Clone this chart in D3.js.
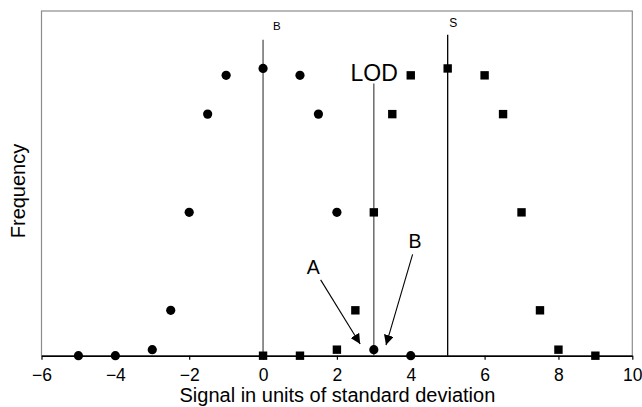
<!DOCTYPE html>
<html>
<head>
<meta charset="utf-8">
<script src="https://cdn.jsdelivr.net/npm/d3@7"></script>
<style>
  html, body { margin: 0; padding: 0; background: #fff; }
  svg { display: block; font-family: "Liberation Sans", Arial, Helvetica, sans-serif; }
</style>
</head>
<body>
<svg id="chart" width="642" height="407"></svg>
<script>
// ---- data ----
const xTicks = [-6, -4, -2, 0, 2, 4, 6, 8, 10];
const blankX = [-5, -4, -3, -2.5, -2, -1.5, -1, 0, 1, 1.5, 2, 3, 4];
const blankY = [0, 0, 0.021, 0.158, 0.499, 0.841, 0.976, 1.0, 0.976, 0.841, 0.499, 0.021, 0];
const signalX = [0, 1, 2, 2.5, 3, 3.5, 4, 5, 6, 6.5, 7, 7.5, 8, 9];
const signalY = [0, 0, 0.021, 0.158, 0.499, 0.841, 0.976, 1.0, 0.976, 0.841, 0.499, 0.158, 0.021, 0];
const refLineX = [0, 3, 5];
const refLineTop = [1.1, 0.948, 1.117];
const refLineLabel = ["B", "LOD", "S"];
const arrowLabel = ["A", "B"];
const arrowFrom = [[1.56, 0.264], [4.05, 0.353]];
const arrowTo = [[2.63, 0.041], [3.33, 0.037]];
const xTitle = "Signal in units of standard deviation";
const yTitle = "Frequency";

// ---- layout ----
const W = 642, H = 407;
const m = { top: 11, right: 9.7, bottom: 51.3, left: 41.5 };
const svg = d3.select("#chart");
const x = d3.scaleLinear().domain([-6, 10]).range([m.left, W - m.right]);
const y = d3.scaleLinear().domain([0, 1.2]).range([H - m.bottom, m.top]);

svg.append("defs").append("marker")
  .attr("id", "ah").attr("viewBox", "0 0 10 10").attr("refX", 10).attr("refY", 5)
  .attr("markerWidth", 10).attr("markerHeight", 10).attr("markerUnits", "userSpaceOnUse")
  .attr("orient", "auto")
  .append("path").attr("d", "M0,0 L10,5 L0,10 Z").attr("fill", "#000");

// frame
svg.append("rect")
  .attr("x", x(-6)).attr("y", y(1.2))
  .attr("width", x(10) - x(-6)).attr("height", y(0) - y(1.2))
  .attr("fill", "none").attr("stroke", "#8c8c8c").attr("stroke-width", 1.2);

// reference vertical lines
const lineColors = ["#555", "#555", "#000"];
refLineX.forEach((v, i) => {
  svg.append("line")
    .attr("x1", x(v)).attr("x2", x(v))
    .attr("y1", y(0)).attr("y2", y(refLineTop[i]))
    .attr("stroke", lineColors[i]).attr("stroke-width", 1.3);
});
// labels of vertical lines
svg.append("text").attr("x", x(refLineX[0]) + 10).attr("y", y(refLineTop[0]) - 9.5)
  .attr("font-size", 11.5).text(refLineLabel[0]);
svg.append("text").attr("x", x(refLineX[1]) + 24).attr("y", y(refLineTop[1]) - 2.8)
  .attr("font-size", 23).attr("text-anchor", "end").text(refLineLabel[1]);
svg.append("text").attr("x", x(refLineX[2]) + 1.5).attr("y", y(refLineTop[2]) - 7.5)
  .attr("font-size", 12).text(refLineLabel[2]);

// x axis
const axis = d3.axisBottom(x).tickValues(xTicks).tickSize(4).tickSizeOuter(0).tickPadding(9)
  .tickFormat(d => d3.format("d")(d).replace("-", "\u2212"));
const gx = svg.append("g").attr("transform", `translate(0,${y(0)})`).call(axis);
gx.select(".domain").attr("stroke", "#000").attr("stroke-width", 1.4);
gx.selectAll(".tick line").attr("stroke", "#000").attr("stroke-width", 1.2);
gx.selectAll(".tick text").attr("font-size", 17.5).attr("fill", "#000")
  .attr("font-family", "Liberation Sans, Arial, sans-serif");

// markers
svg.append("g").selectAll("circle").data(blankX).join("circle")
  .attr("cx", d => x(d)).attr("cy", (d, i) => y(blankY[i])).attr("r", 4.6).attr("fill", "#000");
const s = 8.4;
svg.append("g").selectAll("rect").data(signalX).join("rect")
  .attr("x", d => x(d) - s / 2).attr("y", (d, i) => y(signalY[i]) - s / 2)
  .attr("width", s).attr("height", s).attr("fill", "#000");

// arrows with labels
arrowLabel.forEach((lab, i) => {
  svg.append("line")
    .attr("x1", x(arrowFrom[i][0])).attr("y1", y(arrowFrom[i][1]))
    .attr("x2", x(arrowTo[i][0])).attr("y2", y(arrowTo[i][1]))
    .attr("stroke", "#000").attr("stroke-width", 1.1).attr("marker-end", "url(#ah)");
});
svg.append("text").attr("x", x(arrowFrom[0][0]) - 14).attr("y", y(arrowFrom[0][1]) - 6)
  .attr("font-size", 19.5).text(arrowLabel[0]);
svg.append("text").attr("x", x(arrowFrom[1][0]) - 4).attr("y", y(arrowFrom[1][1]) - 6)
  .attr("font-size", 19.5).text(arrowLabel[1]);

// axis titles
svg.append("text").attr("x", (x(-6) + x(10)) / 2 + 0.5).attr("y", 402)
  .attr("text-anchor", "middle").attr("font-size", 20).text(xTitle);
svg.append("text").attr("transform", `translate(25,191) rotate(-90)`)
  .attr("text-anchor", "middle").attr("font-size", 20).text(yTitle);
</script>
</body>
</html>
